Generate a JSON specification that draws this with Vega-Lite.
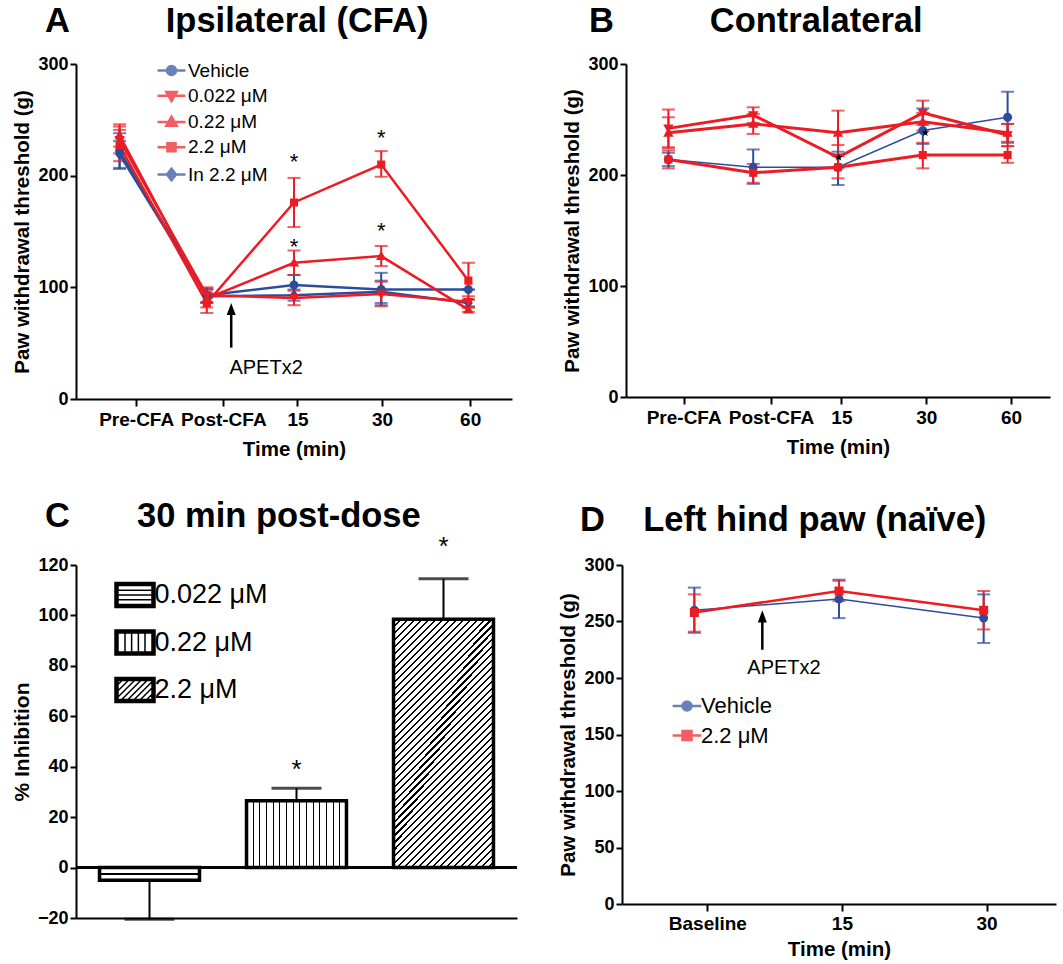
{
  "$schema": "https://vega.github.io/schema/vega-lite/v6.json",
  "background": "white",
  "padding": {"left": 11, "top": 3, "right": 3, "bottom": 3},
  "spacing": 39,
  "resolve": {"scale": {"color": "independent", "shape": "independent"}, "legend": {"color": "independent", "shape": "independent"}},
  "vconcat": [
    {
      "hconcat": [
        {
          "width": 436, "height": 335,
          "title": {"text": "A\u00a0\u00a0\u00a0\u00a0\u00a0\u00a0\u00a0\u00a0\u00a0\u00a0Ipsilateral (CFA)", "dx": -31, "offset": 16},
          "data": {"values": [
            {"s": "Vehicle", "t": 0, "y": 222, "lo": 206, "hi": 238},
            {"s": "Vehicle", "t": 1, "y": 93, "lo": 87, "hi": 99},
            {"s": "Vehicle", "t": 2, "y": 102, "lo": 93, "hi": 111},
            {"s": "Vehicle", "t": 3, "y": 98, "lo": 84, "hi": 113},
            {"s": "Vehicle", "t": 4, "y": 98, "lo": 98, "hi": 98},
            {"s": "In 2.2 μM", "t": 0, "y": 219, "lo": 207, "hi": 231},
            {"s": "In 2.2 μM", "t": 1, "y": 92, "lo": 86, "hi": 98},
            {"s": "In 2.2 μM", "t": 2, "y": 93, "lo": 88, "hi": 98},
            {"s": "In 2.2 μM", "t": 3, "y": 96, "lo": 86, "hi": 106},
            {"s": "In 2.2 μM", "t": 4, "y": 86, "lo": 83, "hi": 89},
            {"s": "0.022 μM", "t": 0, "y": 232, "lo": 220, "hi": 244},
            {"s": "0.022 μM", "t": 1, "y": 93, "lo": 86, "hi": 100},
            {"s": "0.022 μM", "t": 2, "y": 90.5, "lo": 84, "hi": 97},
            {"s": "0.022 μM", "t": 3, "y": 94, "lo": 83, "hi": 105},
            {"s": "0.022 μM", "t": 4, "y": 87, "lo": 82, "hi": 92},
            {"s": "0.22 μM", "t": 0, "y": 236, "lo": 226, "hi": 246},
            {"s": "0.22 μM", "t": 1, "y": 90, "lo": 82, "hi": 98},
            {"s": "0.22 μM", "t": 2, "y": 122, "lo": 111, "hi": 133},
            {"s": "0.22 μM", "t": 3, "y": 128, "lo": 119, "hi": 137},
            {"s": "0.22 μM", "t": 4, "y": 80, "lo": 78, "hi": 82},
            {"s": "2.2 μM", "t": 0, "y": 227, "lo": 213, "hi": 241},
            {"s": "2.2 μM", "t": 1, "y": 86, "lo": 77, "hi": 95},
            {"s": "2.2 μM", "t": 2, "y": 176, "lo": 154, "hi": 198},
            {"s": "2.2 μM", "t": 3, "y": 210, "lo": 199, "hi": 222},
            {"s": "2.2 μM", "t": 4, "y": 106, "lo": 89, "hi": 122}
          ]},
          "encoding": {
            "x": {"field": "t", "type": "quantitative", "scale": {"domain": [-0.5, 4.5], "nice": false, "zero": false},
              "axis": {"title": "Time (min)", "values": [0.19, 1.19, 2.04, 3.01, 4.02],
                "labelExpr": "datum.value < 0.5 ? 'Pre-CFA' : datum.value < 1.5 ? 'Post-CFA' : datum.value < 2.5 ? '15' : datum.value < 3.5 ? '30' : '60'"}}
          },
          "layer": [
            {
              "mark": {"type": "rule", "strokeWidth": 2},
              "encoding": {
                "y": {"field": "lo", "type": "quantitative", "scale": {"domain": [0, 300], "nice": false}, "axis": {"title": "Paw withdrawal threshold (g)", "values": [0, 100, 200, 300]}},
                "y2": {"field": "hi"},
                "color": {"field": "s", "type": "nominal", "scale": {"domain": ["Vehicle", "0.022 μM", "0.22 μM", "2.2 μM", "In 2.2 μM"], "range": ["#2B4D9C", "#EC1C24", "#EC1C24", "#EC1C24", "#2B4D9C"]},
                  "legend": {"orient": "none", "legendX": 86, "legendY": -3, "symbolSize": 81, "labelFontSize": 19, "labelOffset": 7, "rowPadding": 5.25, "symbolStrokeWidth": 2.5, "symbolOpacity": 1, "title": null}}
              }
            },
            {
              "transform": [{"fold": ["lo", "hi"], "as": ["k", "v"]}],
              "mark": {"type": "tick", "orient": "horizontal", "size": 13, "thickness": 2},
              "encoding": {
                "y": {"field": "v", "type": "quantitative"},
                "color": {"field": "s", "type": "nominal"}
              }
            },
            {
              "mark": {"type": "line", "strokeWidth": 2.5},
              "encoding": {
                "y": {"field": "y", "type": "quantitative"},
                "color": {"field": "s", "type": "nominal"}
              }
            },
            {
              "mark": {"type": "point", "filled": true, "opacity": 1, "size": 81},
              "encoding": {
                "y": {"field": "y", "type": "quantitative"},
                "color": {"field": "s", "type": "nominal"},
                "shape": {"field": "s", "type": "nominal", "scale": {"domain": ["Vehicle", "0.022 μM", "0.22 μM", "2.2 μM", "In 2.2 μM"],
                  "range": ["M-3.1,0H3.1M1,0A1,1,0,1,1,-1,0A1,1,0,1,1,1,0Z", "M-3.1,0H3.1M-1.15,-0.85L1.15,-0.85L0,1.15Z", "M-3.1,0H3.1M-1.15,0.85L1.15,0.85L0,-1.15Z", "M-3.1,0H3.1M-0.9,-0.9H0.9V0.9H-0.9Z", "M-3.1,0H3.1M0,-1.25L1,0L0,1.25L-1,0Z"]},
                  "legend": {"orient": "none", "legendX": 86, "legendY": -3, "symbolSize": 81, "labelFontSize": 19, "labelOffset": 7, "rowPadding": 5.25, "symbolStrokeWidth": 2.5, "symbolOpacity": 1, "title": null}}
              }
            },
            {
              "data": {"values": [{"t": 2, "y": 217}, {"t": 2, "y": 141}, {"t": 3, "y": 238}, {"t": 3, "y": 154.5}]},
              "mark": {"type": "text", "text": "*", "fontSize": 22, "dy": 12, "baseline": "alphabetic", "color": "black"},
              "encoding": {"y": {"field": "y", "type": "quantitative"}}
            },
            {
              "data": {"values": [{"t": 1.28, "y": 46, "y2": 80}]},
              "mark": {"type": "rule", "strokeWidth": 2.5, "color": "black"},
              "encoding": {"y": {"field": "y", "type": "quantitative"}, "y2": {"field": "y2"}}
            },
            {
              "data": {"values": [{"t": 1.28, "y": 80}]},
              "mark": {"type": "point", "shape": "M0,-1.5L-1,1.2L1,1.2Z", "filled": true, "color": "black", "size": 81, "opacity": 1},
              "encoding": {"y": {"field": "y", "type": "quantitative"}}
            },
            {
              "data": {"values": [{"t": 1.68, "y": 28, "label": "APETx2"}]},
              "mark": {"type": "text", "fontSize": 20, "color": "black", "baseline": "middle", "align": "center"},
              "encoding": {"y": {"field": "y", "type": "quantitative"}, "text": {"field": "label"}}
            }
          ]
        },
        {
          "width": 424, "height": 333,
          "title": {"text": "B\u00a0\u00a0\u00a0\u00a0\u00a0\u00a0\u00a0\u00a0\u00a0\u00a0Contralateral", "dx": -37, "offset": 16},
          "data": {"values": [
            {"s": "Vehicle", "t": 0, "y": 214, "lo": 208, "hi": 220},
            {"s": "Vehicle", "t": 1, "y": 207, "lo": 192, "hi": 223},
            {"s": "Vehicle", "t": 2, "y": 207, "lo": 191, "hi": 221},
            {"s": "Vehicle", "t": 3, "y": 240, "lo": 228, "hi": 260},
            {"s": "Vehicle", "t": 4, "y": 252, "lo": 229, "hi": 275},
            {"s": "0.022 μM", "t": 0, "y": 242, "lo": 225, "hi": 259},
            {"s": "0.022 μM", "t": 1, "y": 254, "lo": 247, "hi": 261},
            {"s": "0.022 μM", "t": 2, "y": 216, "lo": 206, "hi": 227},
            {"s": "0.022 μM", "t": 3, "y": 256, "lo": 245, "hi": 267},
            {"s": "0.022 μM", "t": 4, "y": 236, "lo": 226, "hi": 246},
            {"s": "0.22 μM", "t": 0, "y": 238, "lo": 224, "hi": 252},
            {"s": "0.22 μM", "t": 1, "y": 246, "lo": 237, "hi": 255},
            {"s": "0.22 μM", "t": 2, "y": 238, "lo": 218, "hi": 258},
            {"s": "0.22 μM", "t": 3, "y": 248, "lo": 240, "hi": 256},
            {"s": "0.22 μM", "t": 4, "y": 238, "lo": 230, "hi": 246},
            {"s": "2.2 μM", "t": 0, "y": 214, "lo": 206, "hi": 222},
            {"s": "2.2 μM", "t": 1, "y": 202, "lo": 193, "hi": 210},
            {"s": "2.2 μM", "t": 2, "y": 207, "lo": 197, "hi": 217},
            {"s": "2.2 μM", "t": 3, "y": 218, "lo": 206, "hi": 229},
            {"s": "2.2 μM", "t": 4, "y": 218, "lo": 211, "hi": 226}
          ]},
          "encoding": {
            "x": {"field": "t", "type": "quantitative", "scale": {"domain": [-0.5, 4.5], "nice": false, "zero": false},
              "axis": {"title": "Time (min)", "values": [0.18, 1.21, 2.04, 3.04, 4.04],
                "labelExpr": "datum.value < 0.5 ? 'Pre-CFA' : datum.value < 1.5 ? 'Post-CFA' : datum.value < 2.5 ? '15' : datum.value < 3.5 ? '30' : '60'"}}
          },
          "layer": [
            {
              "mark": {"type": "rule", "strokeWidth": 2},
              "encoding": {
                "y": {"field": "lo", "type": "quantitative", "scale": {"domain": [0, 300], "nice": false}, "axis": {"title": "Paw withdrawal threshold (g)", "values": [0, 100, 200, 300]}},
                "y2": {"field": "hi"},
                "color": {"field": "s", "type": "nominal", "scale": {"domain": ["Vehicle", "0.022 μM", "0.22 μM", "2.2 μM"], "range": ["#2B4D9C", "#EC1C24", "#EC1C24", "#EC1C24"]}, "legend": null}
              }
            },
            {
              "transform": [{"fold": ["lo", "hi"], "as": ["k", "v"]}],
              "mark": {"type": "tick", "orient": "horizontal", "size": 13, "thickness": 2},
              "encoding": {
                "y": {"field": "v", "type": "quantitative"},
                "color": {"field": "s", "type": "nominal", "legend": null}
              }
            },
            {
              "transform": [{"filter": "datum.s == 'Vehicle'"}],
              "mark": {"type": "line", "strokeWidth": 1.5},
              "encoding": {
                "y": {"field": "y", "type": "quantitative"},
                "color": {"field": "s", "type": "nominal", "legend": null}
              }
            },
            {
              "transform": [{"filter": "datum.s != 'Vehicle'"}],
              "mark": {"type": "line", "strokeWidth": 3},
              "encoding": {
                "y": {"field": "y", "type": "quantitative"},
                "color": {"field": "s", "type": "nominal", "legend": null}
              }
            },
            {
              "mark": {"type": "point", "filled": true, "opacity": 1, "size": 81},
              "encoding": {
                "y": {"field": "y", "type": "quantitative"},
                "color": {"field": "s", "type": "nominal", "legend": null},
                "shape": {"field": "s", "type": "nominal", "scale": {"domain": ["Vehicle", "0.022 μM", "0.22 μM", "2.2 μM"],
                  "range": ["M1,0A1,1,0,1,1,-1,0A1,1,0,1,1,1,0Z", "M-1.15,-0.85L1.15,-0.85L0,1.15Z", "M-1.15,0.85L1.15,0.85L0,-1.15Z", "M-0.9,-0.9H0.9V0.9H-0.9Z"]}, "legend": null}
              }
            },
            {
              "data": {"values": [{"t": 2.01, "y": 216}, {"t": 3.03, "y": 238}]},
              "mark": {"type": "point", "shape": "M0,-1L0.235,-0.324L0.951,-0.309L0.38,0.124L0.588,0.809L0,0.4L-0.588,0.809L-0.38,0.124L-0.951,-0.309L-0.235,-0.324Z", "filled": true, "color": "black", "size": 64, "opacity": 1},
              "encoding": {"y": {"field": "y", "type": "quantitative"}}
            }
          ]
        }
      ],
      "spacing": 114,
      "bounds": "flush",
      "resolve": {"scale": {"color": "independent", "shape": "independent"}, "legend": {"color": "independent", "shape": "independent"}}
    },
    {
      "hconcat": [
        {
          "width": 441, "height": 353,
          "title": {"text": "C\u00a0\u00a0\u00a0\u00a0\u00a0\u00a0\u00a030 min post-dose", "dx": -31, "offset": -1},
          "data": {"values": [
            {"dose": "0.022 μM", "val": -5, "err": -20.5},
            {"dose": "0.22 μM", "val": 26.5, "err": 31.5},
            {"dose": "2.2 μM", "val": 98.5, "err": 114.5}
          ]},
          "layer": [
            {
              "mark": {"type": "rule", "strokeWidth": 2.5, "color": "black"},
              "encoding": {"y": {"datum": 0, "type": "quantitative", "scale": {"domain": [-20, 120], "nice": false, "zero": false},
                "axis": {"title": "% Inhibition", "values": [-20, 0, 20, 40, 60, 80, 100, 120], "titleFontSize": 21}}}
            },
            {
              "transform": [{"filter": "datum.dose == '0.022 μM'"}],
              "mark": {"type": "bar", "stroke": "black", "strokeWidth": 3.5,
                "fill": {"gradient": "linear", "x1": 0, "y1": 0, "x2": 0, "y2": 1, "stops": [
                  {"offset": 0, "color": "#fff"}, {"offset": 0.43, "color": "#fff"}, {"offset": 0.43, "color": "#000"}, {"offset": 0.55, "color": "#000"}, {"offset": 0.55, "color": "#fff"}, {"offset": 1, "color": "#fff"}]}},
              "encoding": {
                "x": {"field": "dose", "type": "nominal", "sort": null, "scale": {"domain": ["0.022 μM", "0.22 μM", "2.2 μM"], "paddingInner": 0.32, "paddingOuter": 0.16}, "axis": {"title": null, "labels": false, "ticks": false}},
                "y": {"field": "val", "type": "quantitative"},
                "y2": {"datum": 0}
              }
            },
            {
              "transform": [{"filter": "datum.dose == '0.22 μM'"}],
              "mark": {"type": "bar", "stroke": "black", "strokeWidth": 3.5,
                "fill": {"gradient": "linear", "x1": 0, "y1": 0, "x2": 1, "y2": 0, "stops": [
                  {"offset": 0, "color": "#fff"},
                  {"offset": 0.0602, "color": "#fff"}, {"offset": 0.0602, "color": "#000"}, {"offset": 0.0732, "color": "#000"}, {"offset": 0.0732, "color": "#fff"},
                  {"offset": 0.1268, "color": "#fff"}, {"offset": 0.1268, "color": "#000"}, {"offset": 0.1398, "color": "#000"}, {"offset": 0.1398, "color": "#fff"},
                  {"offset": 0.1935, "color": "#fff"}, {"offset": 0.1935, "color": "#000"}, {"offset": 0.2065, "color": "#000"}, {"offset": 0.2065, "color": "#fff"},
                  {"offset": 0.2602, "color": "#fff"}, {"offset": 0.2602, "color": "#000"}, {"offset": 0.2732, "color": "#000"}, {"offset": 0.2732, "color": "#fff"},
                  {"offset": 0.3268, "color": "#fff"}, {"offset": 0.3268, "color": "#000"}, {"offset": 0.3398, "color": "#000"}, {"offset": 0.3398, "color": "#fff"},
                  {"offset": 0.3935, "color": "#fff"}, {"offset": 0.3935, "color": "#000"}, {"offset": 0.4065, "color": "#000"}, {"offset": 0.4065, "color": "#fff"},
                  {"offset": 0.4602, "color": "#fff"}, {"offset": 0.4602, "color": "#000"}, {"offset": 0.4732, "color": "#000"}, {"offset": 0.4732, "color": "#fff"},
                  {"offset": 0.5268, "color": "#fff"}, {"offset": 0.5268, "color": "#000"}, {"offset": 0.5398, "color": "#000"}, {"offset": 0.5398, "color": "#fff"},
                  {"offset": 0.5935, "color": "#fff"}, {"offset": 0.5935, "color": "#000"}, {"offset": 0.6065, "color": "#000"}, {"offset": 0.6065, "color": "#fff"},
                  {"offset": 0.6602, "color": "#fff"}, {"offset": 0.6602, "color": "#000"}, {"offset": 0.6732, "color": "#000"}, {"offset": 0.6732, "color": "#fff"},
                  {"offset": 0.7268, "color": "#fff"}, {"offset": 0.7268, "color": "#000"}, {"offset": 0.7398, "color": "#000"}, {"offset": 0.7398, "color": "#fff"},
                  {"offset": 0.7935, "color": "#fff"}, {"offset": 0.7935, "color": "#000"}, {"offset": 0.8065, "color": "#000"}, {"offset": 0.8065, "color": "#fff"},
                  {"offset": 0.8602, "color": "#fff"}, {"offset": 0.8602, "color": "#000"}, {"offset": 0.8732, "color": "#000"}, {"offset": 0.8732, "color": "#fff"},
                  {"offset": 0.9268, "color": "#fff"}, {"offset": 0.9268, "color": "#000"}, {"offset": 0.9398, "color": "#000"}, {"offset": 0.9398, "color": "#fff"},
                  {"offset": 1, "color": "#fff"}]}},
              "encoding": {
                "x": {"field": "dose", "type": "nominal", "sort": null},
                "y": {"field": "val", "type": "quantitative"},
                "y2": {"datum": 0}
              }
            },
            {
              "transform": [{"filter": "datum.dose == '2.2 μM'"}],
              "mark": {"type": "bar", "stroke": "black", "strokeWidth": 3.5,
                "fill": {"gradient": "linear", "x1": 0, "y1": 0, "x2": 0.488, "y2": 1.207, "stops": [
                  {"offset": 0, "color": "#000"}, {"offset": 0.006, "color": "#000"}, {"offset": 0.006, "color": "#fff"}, {"offset": 0.02, "color": "#fff"},
                  {"offset": 0.02, "color": "#000"}, {"offset": 0.026, "color": "#000"}, {"offset": 0.026, "color": "#fff"}, {"offset": 0.04, "color": "#fff"},
                  {"offset": 0.04, "color": "#000"}, {"offset": 0.046, "color": "#000"}, {"offset": 0.046, "color": "#fff"}, {"offset": 0.06, "color": "#fff"},
                  {"offset": 0.06, "color": "#000"}, {"offset": 0.066, "color": "#000"}, {"offset": 0.066, "color": "#fff"}, {"offset": 0.08, "color": "#fff"},
                  {"offset": 0.08, "color": "#000"}, {"offset": 0.086, "color": "#000"}, {"offset": 0.086, "color": "#fff"}, {"offset": 0.1, "color": "#fff"},
                  {"offset": 0.1, "color": "#000"}, {"offset": 0.106, "color": "#000"}, {"offset": 0.106, "color": "#fff"}, {"offset": 0.12, "color": "#fff"},
                  {"offset": 0.12, "color": "#000"}, {"offset": 0.126, "color": "#000"}, {"offset": 0.126, "color": "#fff"}, {"offset": 0.14, "color": "#fff"},
                  {"offset": 0.14, "color": "#000"}, {"offset": 0.146, "color": "#000"}, {"offset": 0.146, "color": "#fff"}, {"offset": 0.16, "color": "#fff"},
                  {"offset": 0.16, "color": "#000"}, {"offset": 0.166, "color": "#000"}, {"offset": 0.166, "color": "#fff"}, {"offset": 0.18, "color": "#fff"},
                  {"offset": 0.18, "color": "#000"}, {"offset": 0.186, "color": "#000"}, {"offset": 0.186, "color": "#fff"}, {"offset": 0.2, "color": "#fff"},
                  {"offset": 0.2, "color": "#000"}, {"offset": 0.206, "color": "#000"}, {"offset": 0.206, "color": "#fff"}, {"offset": 0.22, "color": "#fff"},
                  {"offset": 0.22, "color": "#000"}, {"offset": 0.226, "color": "#000"}, {"offset": 0.226, "color": "#fff"}, {"offset": 0.24, "color": "#fff"},
                  {"offset": 0.24, "color": "#000"}, {"offset": 0.246, "color": "#000"}, {"offset": 0.246, "color": "#fff"}, {"offset": 0.26, "color": "#fff"},
                  {"offset": 0.26, "color": "#000"}, {"offset": 0.266, "color": "#000"}, {"offset": 0.266, "color": "#fff"}, {"offset": 0.28, "color": "#fff"},
                  {"offset": 0.28, "color": "#000"}, {"offset": 0.286, "color": "#000"}, {"offset": 0.286, "color": "#fff"}, {"offset": 0.3, "color": "#fff"},
                  {"offset": 0.3, "color": "#000"}, {"offset": 0.306, "color": "#000"}, {"offset": 0.306, "color": "#fff"}, {"offset": 0.32, "color": "#fff"},
                  {"offset": 0.32, "color": "#000"}, {"offset": 0.326, "color": "#000"}, {"offset": 0.326, "color": "#fff"}, {"offset": 0.34, "color": "#fff"},
                  {"offset": 0.34, "color": "#000"}, {"offset": 0.346, "color": "#000"}, {"offset": 0.346, "color": "#fff"}, {"offset": 0.36, "color": "#fff"},
                  {"offset": 0.36, "color": "#000"}, {"offset": 0.366, "color": "#000"}, {"offset": 0.366, "color": "#fff"}, {"offset": 0.38, "color": "#fff"},
                  {"offset": 0.38, "color": "#000"}, {"offset": 0.386, "color": "#000"}, {"offset": 0.386, "color": "#fff"}, {"offset": 0.4, "color": "#fff"},
                  {"offset": 0.4, "color": "#000"}, {"offset": 0.406, "color": "#000"}, {"offset": 0.406, "color": "#fff"}, {"offset": 0.42, "color": "#fff"},
                  {"offset": 0.42, "color": "#000"}, {"offset": 0.426, "color": "#000"}, {"offset": 0.426, "color": "#fff"}, {"offset": 0.44, "color": "#fff"},
                  {"offset": 0.44, "color": "#000"}, {"offset": 0.446, "color": "#000"}, {"offset": 0.446, "color": "#fff"}, {"offset": 0.46, "color": "#fff"},
                  {"offset": 0.46, "color": "#000"}, {"offset": 0.466, "color": "#000"}, {"offset": 0.466, "color": "#fff"}, {"offset": 0.48, "color": "#fff"},
                  {"offset": 0.48, "color": "#000"}, {"offset": 0.486, "color": "#000"}, {"offset": 0.486, "color": "#fff"}, {"offset": 0.5, "color": "#fff"},
                  {"offset": 0.5, "color": "#000"}, {"offset": 0.506, "color": "#000"}, {"offset": 0.506, "color": "#fff"}, {"offset": 0.52, "color": "#fff"},
                  {"offset": 0.52, "color": "#000"}, {"offset": 0.526, "color": "#000"}, {"offset": 0.526, "color": "#fff"}, {"offset": 0.54, "color": "#fff"},
                  {"offset": 0.54, "color": "#000"}, {"offset": 0.546, "color": "#000"}, {"offset": 0.546, "color": "#fff"}, {"offset": 0.56, "color": "#fff"},
                  {"offset": 0.56, "color": "#000"}, {"offset": 0.566, "color": "#000"}, {"offset": 0.566, "color": "#fff"}, {"offset": 0.58, "color": "#fff"},
                  {"offset": 0.58, "color": "#000"}, {"offset": 0.586, "color": "#000"}, {"offset": 0.586, "color": "#fff"}, {"offset": 0.6, "color": "#fff"},
                  {"offset": 0.6, "color": "#000"}, {"offset": 0.606, "color": "#000"}, {"offset": 0.606, "color": "#fff"}, {"offset": 0.62, "color": "#fff"},
                  {"offset": 0.62, "color": "#000"}, {"offset": 0.626, "color": "#000"}, {"offset": 0.626, "color": "#fff"}, {"offset": 0.64, "color": "#fff"},
                  {"offset": 0.64, "color": "#000"}, {"offset": 0.646, "color": "#000"}, {"offset": 0.646, "color": "#fff"}, {"offset": 0.66, "color": "#fff"},
                  {"offset": 0.66, "color": "#000"}, {"offset": 0.666, "color": "#000"}, {"offset": 0.666, "color": "#fff"}, {"offset": 0.68, "color": "#fff"},
                  {"offset": 0.68, "color": "#000"}, {"offset": 0.686, "color": "#000"}, {"offset": 0.686, "color": "#fff"}, {"offset": 0.7, "color": "#fff"},
                  {"offset": 0.7, "color": "#000"}, {"offset": 0.706, "color": "#000"}, {"offset": 0.706, "color": "#fff"}, {"offset": 0.72, "color": "#fff"},
                  {"offset": 0.72, "color": "#000"}, {"offset": 0.726, "color": "#000"}, {"offset": 0.726, "color": "#fff"}, {"offset": 0.74, "color": "#fff"},
                  {"offset": 0.74, "color": "#000"}, {"offset": 0.746, "color": "#000"}, {"offset": 0.746, "color": "#fff"}, {"offset": 0.76, "color": "#fff"},
                  {"offset": 0.76, "color": "#000"}, {"offset": 0.766, "color": "#000"}, {"offset": 0.766, "color": "#fff"}, {"offset": 0.78, "color": "#fff"},
                  {"offset": 0.78, "color": "#000"}, {"offset": 0.786, "color": "#000"}, {"offset": 0.786, "color": "#fff"}, {"offset": 0.8, "color": "#fff"},
                  {"offset": 0.8, "color": "#000"}, {"offset": 0.806, "color": "#000"}, {"offset": 0.806, "color": "#fff"}, {"offset": 0.82, "color": "#fff"},
                  {"offset": 0.82, "color": "#000"}, {"offset": 0.826, "color": "#000"}, {"offset": 0.826, "color": "#fff"}, {"offset": 0.84, "color": "#fff"},
                  {"offset": 0.84, "color": "#000"}, {"offset": 0.846, "color": "#000"}, {"offset": 0.846, "color": "#fff"}, {"offset": 0.86, "color": "#fff"},
                  {"offset": 0.86, "color": "#000"}, {"offset": 0.866, "color": "#000"}, {"offset": 0.866, "color": "#fff"}, {"offset": 0.88, "color": "#fff"},
                  {"offset": 0.88, "color": "#000"}, {"offset": 0.886, "color": "#000"}, {"offset": 0.886, "color": "#fff"}, {"offset": 0.9, "color": "#fff"},
                  {"offset": 0.9, "color": "#000"}, {"offset": 0.906, "color": "#000"}, {"offset": 0.906, "color": "#fff"}, {"offset": 0.92, "color": "#fff"},
                  {"offset": 0.92, "color": "#000"}, {"offset": 0.926, "color": "#000"}, {"offset": 0.926, "color": "#fff"}, {"offset": 0.94, "color": "#fff"},
                  {"offset": 0.94, "color": "#000"}, {"offset": 0.946, "color": "#000"}, {"offset": 0.946, "color": "#fff"}, {"offset": 0.96, "color": "#fff"},
                  {"offset": 0.96, "color": "#000"}, {"offset": 0.966, "color": "#000"}, {"offset": 0.966, "color": "#fff"}, {"offset": 0.98, "color": "#fff"},
                  {"offset": 0.98, "color": "#000"}, {"offset": 0.986, "color": "#000"}, {"offset": 0.986, "color": "#fff"}, {"offset": 1, "color": "#fff"}]}},
              "encoding": {
                "x": {"field": "dose", "type": "nominal", "sort": null},
                "y": {"field": "val", "type": "quantitative"},
                "y2": {"datum": 0}
              }
            },
            {
              "mark": {"type": "rule", "strokeWidth": 2, "color": "black"},
              "encoding": {
                "x": {"field": "dose", "type": "nominal", "sort": null},
                "y": {"field": "val", "type": "quantitative"},
                "y2": {"field": "err"}
              }
            },
            {
              "mark": {"type": "tick", "orient": "horizontal", "size": 50, "thickness": 3, "color": "black"},
              "encoding": {
                "x": {"field": "dose", "type": "nominal", "sort": null},
                "y": {"field": "err", "type": "quantitative"}
              }
            },
            {
              "data": {"values": [{"dose": "0.22 μM", "y": 41.5}, {"dose": "2.2 μM", "y": 130}]},
              "mark": {"type": "text", "text": "*", "fontSize": 26, "dy": 15, "baseline": "alphabetic", "color": "black"},
              "encoding": {
                "x": {"field": "dose", "type": "nominal", "sort": null},
                "y": {"field": "y", "type": "quantitative"}
              }
            },
            {
              "mark": {"type": "point", "filled": true, "fill": "black", "stroke": "black", "strokeWidth": 1, "opacity": 0, "size": 625},
              "encoding": {
                "x": {"field": "dose", "type": "nominal", "sort": null},
                "y": {"field": "val", "type": "quantitative"},
                "shape": {"field": "dose", "type": "nominal", "scale": {"domain": ["0.022 μM", "0.22 μM", "2.2 μM"],
                  "range": [
                    "M-1.6,-1H1.6V1H-1.6ZM-1.36,-0.76V0.76H1.36V-0.76ZM-1.36,-0.38H1.36M-1.36,0H1.36M-1.36,0.38H1.36",
                    "M-1.6,-1H1.6V1H-1.6ZM-1.36,-0.76V0.76H1.36V-0.76ZM-0.8,-0.76V0.76M-0.27,-0.76V0.76M0.27,-0.76V0.76M0.8,-0.76V0.76",
                    "M-1.6,-1H1.6V1H-1.6ZM-1.36,-0.76V0.76H1.36V-0.76ZM-1.6,-0.7L-1.3,-1M-1.6,-0.2L-0.8,-1M-1.6,0.3L-0.3,-1M-1.6,0.8L0.2,-1M-1.3,1L0.7,-1M-0.8,1L1.2,-1M-0.3,1L1.6,-0.9M0.2,1L1.6,-0.4M0.7,1L1.6,0.1M1.2,1L1.6,0.6"]},
                  "legend": {"orient": "none", "legendX": 45.5, "legendY": 16.5, "symbolSize": 625, "labelFontSize": 27, "labelOffset": 6, "rowPadding": 16.5, "symbolOpacity": 1, "title": null}}
              }
            }
          ]
        },
        {
          "width": 434, "height": 339,
          "title": {"text": "D\u00a0\u00a0\u00a0\u00a0Left hind paw (naïve)", "dx": -42, "offset": 18},
          "data": {"values": [
            {"s": "Vehicle", "t": 0, "y": 260, "lo": 240, "hi": 280},
            {"s": "Vehicle", "t": 1, "y": 270, "lo": 253, "hi": 287},
            {"s": "Vehicle", "t": 2, "y": 253, "lo": 231, "hi": 274},
            {"s": "2.2 μM", "t": 0, "y": 258, "lo": 241, "hi": 274},
            {"s": "2.2 μM", "t": 1, "y": 277, "lo": 268, "hi": 286},
            {"s": "2.2 μM", "t": 2, "y": 260, "lo": 243, "hi": 277}
          ]},
          "encoding": {
            "x": {"field": "t", "type": "quantitative", "scale": {"domain": [-0.5, 2.5], "nice": false, "zero": false},
              "axis": {"title": "Time (min)", "values": [0.09, 1.02, 2.02], "labelPadding": 3, "titlePadding": 6,
                "labelExpr": "datum.value < 0.5 ? 'Baseline' : datum.value < 1.5 ? '15' : '30'"}}
          },
          "layer": [
            {
              "mark": {"type": "rule", "strokeWidth": 2},
              "encoding": {
                "y": {"field": "lo", "type": "quantitative", "scale": {"domain": [0, 300], "nice": false}, "axis": {"title": "Paw withdrawal threshold (g)", "values": [0, 50, 100, 150, 200, 250, 300]}},
                "y2": {"field": "hi"},
                "color": {"field": "s", "type": "nominal", "scale": {"domain": ["Vehicle", "2.2 μM"], "range": ["#2B4D9C", "#EC1C24"]},
                  "legend": {"orient": "none", "legendX": 54, "legendY": 130, "symbolSize": 81, "labelFontSize": 22, "labelOffset": 3, "rowPadding": 7.5, "symbolStrokeWidth": 2.5, "symbolOpacity": 1, "title": null}}
              }
            },
            {
              "transform": [{"fold": ["lo", "hi"], "as": ["k", "v"]}],
              "mark": {"type": "tick", "orient": "horizontal", "size": 13, "thickness": 2},
              "encoding": {
                "y": {"field": "v", "type": "quantitative"},
                "color": {"field": "s", "type": "nominal"}
              }
            },
            {
              "transform": [{"filter": "datum.s == 'Vehicle'"}],
              "mark": {"type": "line", "strokeWidth": 1.5},
              "encoding": {
                "y": {"field": "y", "type": "quantitative"},
                "color": {"field": "s", "type": "nominal"}
              }
            },
            {
              "transform": [{"filter": "datum.s != 'Vehicle'"}],
              "mark": {"type": "line", "strokeWidth": 2.5},
              "encoding": {
                "y": {"field": "y", "type": "quantitative"},
                "color": {"field": "s", "type": "nominal"}
              }
            },
            {
              "mark": {"type": "point", "filled": true, "opacity": 1, "size": 81},
              "encoding": {
                "y": {"field": "y", "type": "quantitative"},
                "color": {"field": "s", "type": "nominal"},
                "shape": {"field": "s", "type": "nominal", "scale": {"domain": ["Vehicle", "2.2 μM"],
                  "range": ["M-3.2,0H3.2M1,0A1,1,0,1,1,-1,0A1,1,0,1,1,1,0Z", "M-3.2,0H3.2M-1,-1H1V1H-1Z"]},
                  "legend": {"orient": "none", "legendX": 54, "legendY": 130, "symbolSize": 81, "labelFontSize": 22, "labelOffset": 3, "rowPadding": 7.5, "symbolStrokeWidth": 2.5, "symbolOpacity": 1, "title": null}}
              }
            },
            {
              "data": {"values": [{"t": 0.47, "y": 225, "y2": 254}]},
              "mark": {"type": "rule", "strokeWidth": 2.5, "color": "black"},
              "encoding": {"y": {"field": "y", "type": "quantitative"}, "y2": {"field": "y2"}}
            },
            {
              "data": {"values": [{"t": 0.47, "y": 254}]},
              "mark": {"type": "point", "shape": "M0,-1.5L-1,1.2L1,1.2Z", "filled": true, "color": "black", "size": 81, "opacity": 1},
              "encoding": {"y": {"field": "y", "type": "quantitative"}}
            },
            {
              "data": {"values": [{"t": 0.62, "y": 209, "label": "APETx2"}]},
              "mark": {"type": "text", "fontSize": 20, "color": "black", "baseline": "middle", "align": "center"},
              "encoding": {"y": {"field": "y", "type": "quantitative"}, "text": {"field": "label"}}
            }
          ]
        }
      ],
      "spacing": 105,
      "bounds": "flush",
      "resolve": {"scale": {"color": "independent", "shape": "independent"}, "legend": {"color": "independent", "shape": "independent"}}
    }
  ],
  "config": {
    "font": "Liberation Sans",
    "view": {"stroke": null},
    "axis": {"domainColor": "black", "domainWidth": 2, "tickColor": "black", "tickWidth": 2, "tickSize": 6, "labelColor": "black", "labelFontWeight": "bold", "labelPadding": 2, "titleColor": "black", "titleFontWeight": "bold", "titleFontSize": 20.5, "grid": false, "labelFlush": false, "labelOverlap": false},
    "axisX": {"labelFontSize": 19, "labelPadding": 4, "titlePadding": 10, "tickSize": 7},
    "axisY": {"labelFontSize": 18, "titlePadding": 5},
    "title": {"fontSize": 34.5, "fontWeight": "bold", "color": "black", "anchor": "start", "frame": "group"},
    "legend": {"labelColor": "black", "padding": 0, "labelFont": "Liberation Sans"}
  }
}
